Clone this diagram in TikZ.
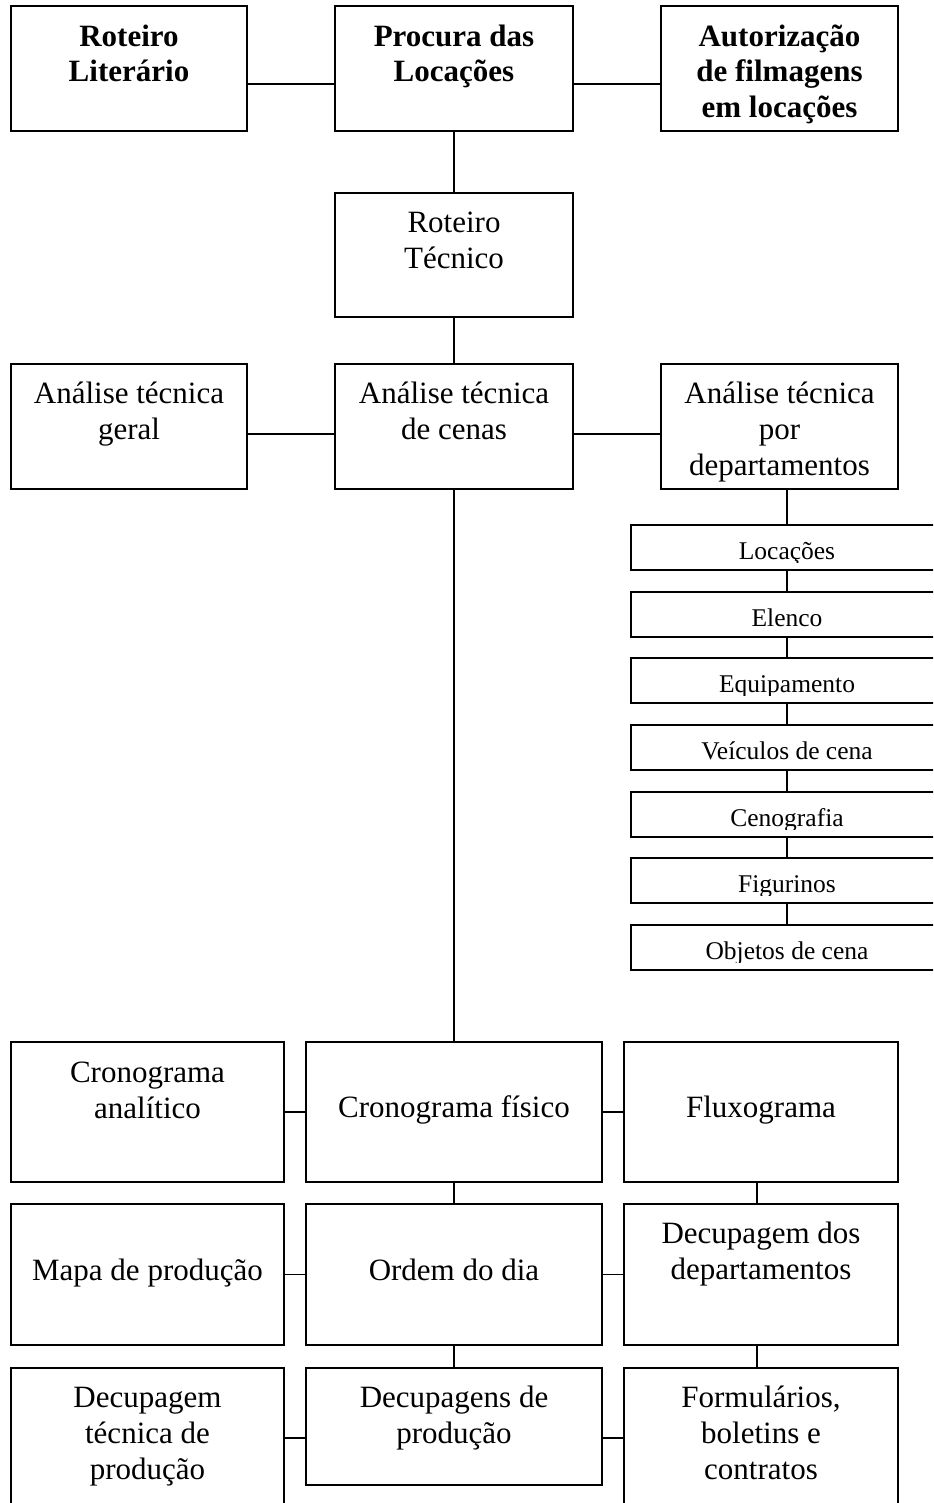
\documentclass[tikz,border=0pt]{standalone}
\usepackage{fontspec}
\setmainfont{Liberation Serif}
\usetikzlibrary{calc}
\tikzset{
  boxst/.style={draw=black, line width=0.9pt, inner sep=0pt, outer sep=0pt, fill=white},
  txt/.style={anchor=north, align=center, inner sep=0pt, font=\fontsize{15.5}{18}\selectfont},
  boldtxt/.style={txt, font=\fontsize{15.5}{17.75}\selectfont\bfseries},
  smalltxt/.style={anchor=base, inner sep=0pt, font=\fontsize{12.75}{15}\selectfont},
  conn/.style={draw=black, line width=0.75pt},
}
% #1 text style, #2 name, #3 x1, #4 y1, #5 x2, #6 y2, #7 first baseline, #8 text
\newcommand\mkbox[8][txt]{%
  \node[boxst, minimum width={(#5-#3)*0.5pt}, minimum height={(#6-#4)*0.5pt}] (#2) at ({(#3+#5)/2},{(#4+#6)/2}) {};
  \node[#1] (#2t) at ({(#3+#5)/2},{#7-25.2}) {\rule{0pt}{12.6pt}#8};
}
% #1 name, #2 top, #3 text
\newcommand\mksmall[3]{%
  \node[boxst, minimum width=156pt, minimum height=22.5pt] (#1) at (787,{#2+22.5}) {};
  \begin{scope}
    \clip (631,#2) rectangle (943,{#2+37});
    \node[smalltxt] (#1t) at (787,{#2+34}) {#3};
  \end{scope}
}
\begin{document}
\begin{tikzpicture}[x=0.5pt, y=-0.5pt]
\useasboundingbox (0,0) rectangle (933,1503);
\clip (0,0) rectangle (933,1503);
\fill[white] (0,0) rectangle (933,1503);

% row 1
\mkbox[boldtxt]{rl}{11}{6}{247}{131}{46}{Roteiro\\Literário}
\mkbox[boldtxt]{pl}{335}{6}{573}{131}{46}{Procura das\\Locações}
\mkbox[boldtxt]{al}{661}{6}{898}{131}{46}{Autorização\\de filmagens\\em locações}
% row 2
\mkbox{rt}{335}{193}{573}{317}{232}{Roteiro\\Técnico}
% row 3
\mkbox{ag}{11}{364}{247}{489}{403}{Análise técnica\\geral}
\mkbox{ac}{335}{364}{573}{489}{403}{Análise técnica\\de cenas}
\mkbox{ad}{661}{364}{898}{489}{403}{Análise técnica\\por\\departamentos}
% departments
\mksmall{s1}{525}{Locações}
\mksmall{s2}{592}{Elenco}
\mksmall{s3}{658}{Equipamento}
\mksmall{s4}{725}{Veículos de cena}
\mksmall{s5}{792}{Cenografia}
\mksmall{s6}{858}{Figurinos}
\mksmall{s7}{925}{Objetos de cena}
% row 4
\mkbox{ca}{11}{1042}{284}{1182}{1082}{Cronograma\\analítico}
\mkbox{cf}{306}{1042}{602}{1182}{1117}{Cronograma físico}
\mkbox{fx}{624}{1042}{898}{1182}{1117}{Fluxograma}
% row 5
\mkbox{mp}{11}{1204}{284}{1345}{1280}{Mapa de produção}
\mkbox{od}{306}{1204}{602}{1345}{1280}{Ordem do dia}
\mkbox{dd}{624}{1204}{898}{1345}{1243}{Decupagem dos\\departamentos}
% row 6
\mkbox{dt}{11}{1368}{284}{1515}{1407}{Decupagem\\técnica de\\produção}
\mkbox{dp}{306}{1368}{602}{1485}{1407}{Decupagens de\\produção}
\mkbox{fb}{624}{1368}{898}{1515}{1407}{Formulários,\\boletins e\\contratos}

% connectors
\draw[conn] ($(rl.east)+(0,15.5)$) -- ($(pl.west)+(0,15.5)$);
\draw[conn] ($(pl.east)+(0,15.5)$) -- ($(al.west)+(0,15.5)$);
\draw[conn] (pl.south) -- (rt.north);
\draw[conn] (rt.south) -- (ac.north);
\draw[conn] ($(ag.east)+(0,7.5)$) -- ($(ac.west)+(0,7.5)$);
\draw[conn] ($(ac.east)+(0,7.5)$) -- ($(ad.west)+(0,7.5)$);
\draw[conn] (ad.south -| s1.north) -- (s1.north);
\draw[conn] (s1.south) -- (s2.north);
\draw[conn] (s2.south) -- (s3.north);
\draw[conn] (s3.south) -- (s4.north);
\draw[conn] (s4.south) -- (s5.north);
\draw[conn] (s5.south) -- (s6.north);
\draw[conn] (s6.south) -- (s7.north);
\draw[conn] (ac.south) -- (cf.north);
\draw[conn] (ca.east) -- (cf.west);
\draw[conn] (cf.east) -- (fx.west);
\draw[conn] (cf.south) -- (od.north);
\draw[conn] ($(fx.south)+(-4,0)$) -- ($(dd.north)+(-4,0)$);
\draw[conn] (mp.east) -- (od.west);
\draw[conn] (od.east) -- (dd.west);
\draw[conn] (od.south) -- (dp.north);
\draw[conn] ($(dd.south)+(-4,0)$) -- ($(fb.north)+(-4,0)$);
\draw[conn] ($(dp.west)+(0,11.5)$) -- ($(dt.east)+(0,-3.5)$);
\draw[conn] ($(dp.east)+(0,11.5)$) -- ($(fb.west)+(0,-3.5)$);
\end{tikzpicture}
\end{document}
